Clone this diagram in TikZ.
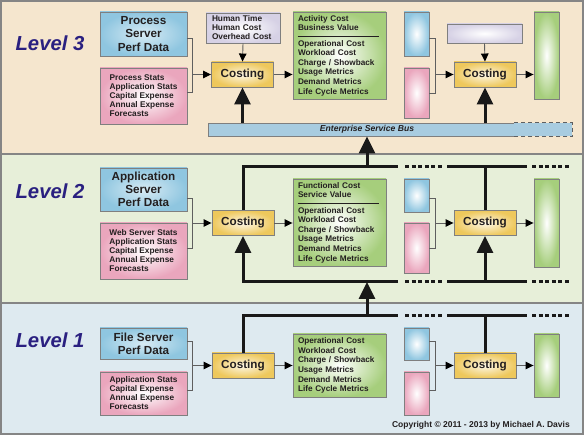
\documentclass[tikz,border=0pt]{standalone}
\usepackage{fontspec}
\setmainfont{Liberation Sans}
\usetikzlibrary{arrows.meta}

\definecolor{bandtop}{HTML}{F5E6CE}
\definecolor{bandmid}{HTML}{E7EFD9}
\definecolor{bandlow}{HTML}{DEEAF0}
\definecolor{bandline}{HTML}{858585}
\definecolor{levelblue}{HTML}{2A2080}
\definecolor{boxline}{HTML}{7F7F7F}
\definecolor{feedgray}{HTML}{5F5F5F}
\definecolor{dataBlue}{HTML}{8FC6E0}
\definecolor{statPink}{HTML}{EAA6BD}
\definecolor{costGold}{HTML}{EEC85C}
\definecolor{valueGreen}{HTML}{A6CE7C}
\definecolor{humanLav}{HTML}{D6D1E5}
\definecolor{busBlue}{HTML}{A8CCE0}
\definecolor{inkgray}{HTML}{231F20}

\tikzset{
  box/.style={draw=boxline, line width=0.9pt, inner ysep=0pt, text=inkgray},
  datbox/.style={box, inner color=dataBlue!35!white, outer color=dataBlue, align=center,
    minimum width=87pt, font=\fontsize{11.7}{13.3}\selectfont\bfseries},
  statbox/.style={box, inner color=white, outer color=statPink, align=left, minimum width=87pt,
    font=\fontsize{8.3}{9}\selectfont\bfseries},
  humanbox/.style={box, inner color=white, outer color=humanLav, align=left,
    font=\fontsize{8.3}{9}\selectfont\bfseries},
  costbox/.style={box, inner color=costGold!15!white, outer color=costGold, minimum width=62pt,
    minimum height=25pt, font=\fontsize{11.7}{13}\selectfont\bfseries},
  valuebox/.style={box, inner color=white, outer color=valueGreen, align=left, text width=83pt,
    inner xsep=5pt, font=\fontsize{8.2}{9.6}\selectfont\bfseries},
  sbluebox/.style={box, inner color=white, outer color=dataBlue, minimum width=25pt},
  spinkbox/.style={box, inner color=white, outer color=statPink, minimum width=25pt},
  sgreenbox/.style={box, inner color=white, outer color=valueGreen, minimum width=25pt},
  levellabel/.style={text=levelblue, inner sep=0pt, font=\fontsize{20.3}{24}\selectfont\bfseries\itshape},
  esbbar/.style={draw=boxline, line width=0.9pt, fill=busBlue, inner sep=0pt, text=inkgray,
    minimum width=306pt, minimum height=13pt, font=\fontsize{8.6}{10}\selectfont\bfseries\itshape},
  esbtail/.style={draw=feedgray, line width=0.9pt, fill=busBlue, dash pattern=on 4pt off 3pt},
  feed/.style={draw=feedgray, line width=0.9pt},
  tip/.style={feed, -{Triangle[length=8pt, width=7.5pt, color=black]}},
  bus/.style={draw=black!90, line width=3pt},
  busdots/.style={bus, dash pattern=on 4pt off 2.6pt},
  bigarrow/.style={bus, -{Triangle[length=17pt, width=16pt]}},
  divider/.style={draw=inkgray, line width=0.8pt},
}

\begin{document}
\begin{tikzpicture}[x=1pt, y=-1pt]
	\useasboundingbox (0,0) rectangle (584,435);

	% bands
	\filldraw[draw=bandline, line width=1.2pt, fill=bandtop] (1,1) rectangle (583,154);
	\filldraw[draw=bandline, line width=1.2pt, fill=bandmid] (1,154) rectangle (583,303);
	\filldraw[draw=bandline, line width=1.2pt, fill=bandlow] (1,303) rectangle (583,434);

	% Level 3
	\node[levellabel] (lvl3) at (50,43.5) {Level 3};
	\node[datbox, minimum height=44pt] (pdata3) at (143.5,34) {Process\\Server\\Perf Data};
	\node[statbox, minimum height=56pt] (pstat3) at (143.5,96) {Process Stats\\Application Stats\\Capital Expense\\Annual Expense\\Forecasts};
	\node[humanbox, text width=62pt, inner xsep=6pt, minimum height=30pt] (human3) at (243,28) {Human Time\\Human Cost\\Overhead Cost};
	\node[costbox] (cost3a) at (242.5,74.5) {Costing};
	\node[valuebox, minimum height=87pt] (value3) at (339.5,55.5) {Activity Cost\\Business Value\\[5.9pt]Operational Cost\\Workload Cost\\Charge / Showback\\Usage Metrics\\Demand Metrics\\Life Cycle Metrics};
	\node[sbluebox, minimum height=44pt] (sblue3) at (416.5,34) {};
	\node[spinkbox, minimum height=50pt] (spink3) at (416.5,93) {};
	\node[humanbox, minimum width=75pt, minimum height=19pt] (lav3) at (484.5,33.5) {};
	\node[costbox] (cost3b) at (485,74.5) {Costing};
	\node[sgreenbox, minimum height=87pt] (sgreen3) at (546.5,55.5) {};
	\node[esbbar] (esb) at (361,129.5) {\hspace*{12pt}Enterprise Service Bus};
	\filldraw[esbtail] (esb.north east) -- ++(58,0) |- (esb.south east);

	\draw[divider] ([xshift=5pt,yshift=-25pt]value3.north west) -- ([xshift=-7pt,yshift=-25pt]value3.north east);
	\coordinate (j3a) at ([xshift=-19pt]cost3a.west);
	\coordinate (j3b) at ([xshift=-18pt]cost3b.west);
	\draw[feed] ([yshift=-4pt]pdata3.east) -| (j3a) |- ([yshift=4pt]pstat3.east);
	\draw[tip] (j3a) -- (cost3a.west);
	\draw[tip] (human3.south) -- (cost3a.north);
	\draw[tip] (cost3a.east) -- (value3.west |- cost3a.east);
	\draw[feed] ([yshift=-4pt]sblue3.east) -| (j3b) |- (spink3.east);
	\draw[tip] (j3b) -- (cost3b.west);
	\draw[tip] (lav3.south) -- (cost3b.north);
	\draw[tip] (cost3b.east) -- (sgreen3.west |- cost3b.east);
	\draw[bigarrow] (cost3a |- esb.north) -- (cost3a.south);
	\draw[bigarrow] (cost3b |- esb.north) -- (cost3b.south);

	% Level 2
	\node[levellabel] (lvl2) at (50,191) {Level 2};
	\node[datbox, minimum height=43pt] (pdata2) at (143.5,189.5) {Application\\Server\\Perf Data};
	\node[statbox, minimum height=56pt] (pstat2) at (143.5,251) {Web Server Stats\\Application Stats\\Capital Expense\\Annual Expense\\Forecasts};
	\node[costbox] (cost2a) at (243,223) {Costing};
	\node[valuebox, minimum height=87pt] (value2) at (339.5,222.5) {Functional Cost\\Service Value\\[5.9pt]Operational Cost\\Workload Cost\\Charge / Showback\\Usage Metrics\\Demand Metrics\\Life Cycle Metrics};
	\node[sbluebox, minimum height=33pt] (sblue2) at (416.5,195.5) {};
	\node[spinkbox, minimum height=50pt] (spink2) at (416.5,248) {};
	\node[costbox] (cost2b) at (485,223) {Costing};
	\node[sgreenbox, minimum height=88pt] (sgreen2) at (546.5,223) {};

	\draw[divider] ([xshift=5pt,yshift=-25pt]value2.north west) -- ([xshift=-7pt,yshift=-25pt]value2.north east);
	\coordinate (j2a) at ([xshift=-19pt]cost2a.west);
	\coordinate (j2b) at ([xshift=-18pt]cost2b.west);
	\draw[feed] ([yshift=-8.5pt]pdata2.east) -| (j2a) |- ([yshift=3pt]pstat2.east);
	\draw[tip] (j2a) -- (cost2a.west);
	\draw[tip] (cost2a.east) -- (value2.west |- cost2a.east);
	\draw[feed] ([yshift=-2.5pt]sblue2.east) -| (j2b) |- (spink2.east);
	\draw[tip] (j2b) -- (cost2b.west);
	\draw[tip] (cost2b.east) -- (sgreen2.west |- cost2b.east);

	\coordinate (bus2t) at (398,167);
	\coordinate (bus2b) at (398,282);
	\coordinate (up2) at (367,167);
	\draw[bus] (cost2a.north) |- (bus2t);
	\draw[bigarrow] (bus2b) -| (cost2a.south);
	\draw[bus] (cost2b.north) -- (cost2b.north |- bus2t);
	\draw[bigarrow] (cost2b |- bus2b) -- (cost2b.south);
	\draw[bigarrow] (up2) -- (up2 |- esb.south);

	% Level 1
	\node[levellabel] (lvl1) at (50,340.5) {Level 1};
	\node[datbox, minimum height=31pt] (pdata1) at (143.5,343.5) {File Server\\Perf Data};
	\node[statbox, minimum height=43pt] (pstat1) at (143.5,393.5) {Application Stats\\Capital Expense\\Annual Expense\\Forecasts};
	\node[costbox] (cost1a) at (243,365.5) {Costing};
	\node[valuebox, minimum height=63pt] (value1) at (339.5,365.5) {Operational Cost\\Workload Cost\\Charge / Showback\\Usage Metrics\\Demand Metrics\\Life Cycle Metrics};
	\node[sbluebox, minimum height=32pt] (sblue1) at (416.5,344) {};
	\node[spinkbox, minimum height=43pt] (spink1) at (416.5,393.5) {};
	\node[costbox] (cost1b) at (485,365.5) {Costing};
	\node[sgreenbox, minimum height=63pt] (sgreen1) at (546.5,365.5) {};

	\coordinate (j1a) at ([xshift=-19pt]cost1a.west);
	\coordinate (j1b) at ([xshift=-18pt]cost1b.west);
	\draw[feed] ([yshift=2.5pt]pdata1.east) -| (j1a) |- ([yshift=3.5pt]pstat1.east);
	\draw[tip] (j1a) -- (cost1a.west);
	\draw[tip] (cost1a.east) -- (value1.west |- cost1a.east);
	\draw[feed] ([yshift=3pt]sblue1.east) -| (j1b) |- ([yshift=3.5pt]spink1.east);
	\draw[tip] (j1b) -- (cost1b.west);
	\draw[tip] (cost1b.east) -- (sgreen1.west |- cost1b.east);

	\coordinate (bus1) at (398,316);
	\coordinate (up1) at (367,316);
	\draw[bus] (cost1a.north) |- (bus1);
	\draw[bus] (cost1b.north) -- (cost1b.north |- bus1);
	\draw[bigarrow] (up1) -- (up1 |- bus2b);

	% open bus ends
	\foreach \y in {167,282,316} {
		\draw[busdots] (405,\y) -- (443,\y);
		\draw[bus] (447,\y) -- (527,\y);
		\draw[busdots] (532,\y) -- (570,\y);
	}

	\node[anchor=east, inner sep=0pt, text=inkgray, font=\fontsize{8.5}{10}\selectfont\bfseries] (copyright) at (570,425) {Copyright © 2011 - 2013 by Michael A. Davis};
\end{tikzpicture}
\end{document}
